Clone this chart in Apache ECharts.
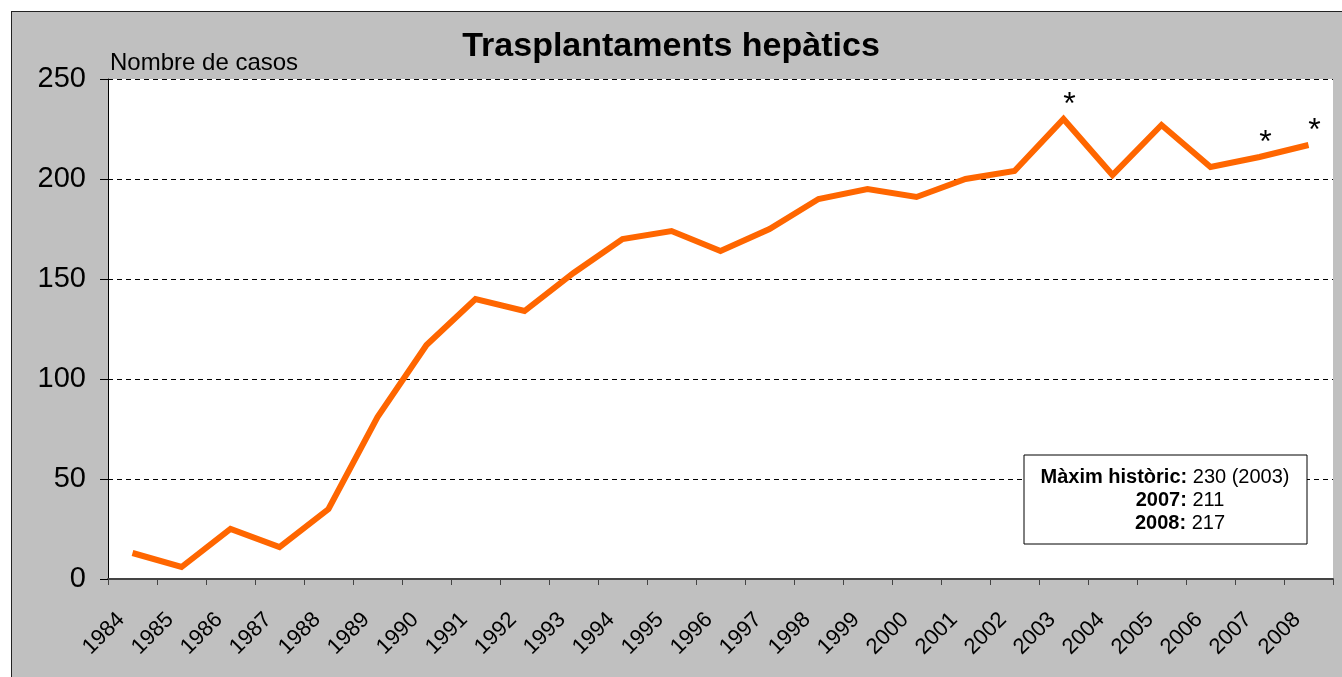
<!DOCTYPE html>
<html>
<head>
<meta charset="utf-8">
<script src="https://cdn.jsdelivr.net/npm/echarts@6/dist/echarts.min.js"></script>
<style>
  html, body { margin: 0; padding: 0; background: #fff; overflow: hidden; }
  #frame { position: absolute; left: 11px; top: 11px; width: 1340px; height: 680px;
           background: #c0c0c0; border: 1px solid #222; }
  #main { position: absolute; left: 0; top: 0; width: 1342px; height: 677px; }
</style>
</head>
<body>
<div id="frame"></div>
<div id="main"></div>
<script>
// data
var years = ['1984', '1985', '1986', '1987', '1988', '1989', '1990', '1991', '1992', '1993',
  '1994', '1995', '1996', '1997', '1998', '1999', '2000', '2001', '2002', '2003',
  '2004', '2005', '2006', '2007', '2008'];
var cases = [13, 6, 25, 16, 35, 81, 117, 140, 134, 153,
  170, 174, 164, 175, 190, 195, 191, 200, 204, 230,
  202, 227, 206, 211, 217];
var starYears = ['2003', '2007', '2008'];
var yTicks = [0, 50, 100, 150, 200, 250];

var font = 'Liberation Sans, Arial, Helvetica, sans-serif';
var chartDom = document.getElementById('main');
var myChart = echarts.init(chartDom);
var option;

function boxText(x, y, bold, plain) {
  return {
    type: 'text',
    x: x, y: y,
    z: 100,
    style: {
      text: '{b|' + bold + '}{n|' + plain + '}',
      fill: '#000',
      align: 'center',
      verticalAlign: 'middle',
      rich: {
        b: { fontWeight: 'bold', fontSize: 20, fontFamily: font, color: '#000' },
        n: { fontSize: 20, fontFamily: font, color: '#000' }
      }
    }
  };
}

option = {
  backgroundColor: 'transparent',
  animation: false,
  title: {
    text: 'Trasplantaments hepàtics',
    left: 'center',
    top: 25,
    textStyle: { fontFamily: font, fontSize: 34, fontWeight: 'bold', color: '#000' }
  },
  grid: {
    left: 108,
    right: 9,
    top: 79,
    bottom: 98,
    show: true,
    backgroundColor: '#fff',
    borderWidth: 0
  },
  xAxis: {
    type: 'category',
    data: years,
    boundaryGap: true,
    axisLine: { lineStyle: { color: '#444', width: 2 } },
    axisTick: { show: true, interval: 0, length: 6, lineStyle: { color: '#444' } },
    axisLabel: {
      interval: 0,
      rotate: 45,
      margin: 26,
      padding: [0, 16, 0, 0],
      fontFamily: font,
      fontSize: 22,
      color: '#000'
    }
  },
  yAxis: {
    type: 'value',
    min: yTicks[0],
    max: yTicks[yTicks.length - 1],
    interval: 50,
    name: 'Nombre de casos',
    nameLocation: 'end',
    nameGap: 4,
    nameTextStyle: { fontFamily: font, fontSize: 24, color: '#000', align: 'left', padding: [0, 0, 0, 2] },
    axisLine: { show: true, lineStyle: { color: '#000', width: 1 } },
    axisTick: { show: true, length: 8, lineStyle: { color: '#000' } },
    axisLabel: { fontFamily: font, fontSize: 29, color: '#000', margin: 22 },
    splitLine: { show: true, lineStyle: { color: '#000', type: [5, 4], width: 1 } }
  },
  series: [
    {
      name: 'Trasplantaments',
      type: 'line',
      data: cases,
      showSymbol: true,
      symbol: 'circle',
      symbolSize: 0,
      lineStyle: { color: '#ff6600', width: 6, join: 'miter' },
      itemStyle: { color: '#ff6600' },
      label: {
        show: true,
        position: 'top',
        distance: 0,
        offset: [6, 2],
        fontFamily: font,
        fontSize: 32,
        color: '#000',
        formatter: function (p) {
          return starYears.indexOf(p.name) >= 0 ? '*' : '';
        }
      }
    }
  ],
  graphic: [
    {
      type: 'rect',
      z: 100,
      shape: { x: 1024, y: 455, width: 283, height: 89 },
      style: { fill: '#fff', stroke: '#000', lineWidth: 1 }
    },
    boxText(1165, 477, 'Màxim històric:', ' 230 (2003)'),
    boxText(1180, 500, '2007:', ' 211'),
    boxText(1180, 523, '2008:', ' 217')
  ]
};

option && myChart.setOption(option);
window.addEventListener('resize', myChart.resize);
</script>
</body>
</html>
